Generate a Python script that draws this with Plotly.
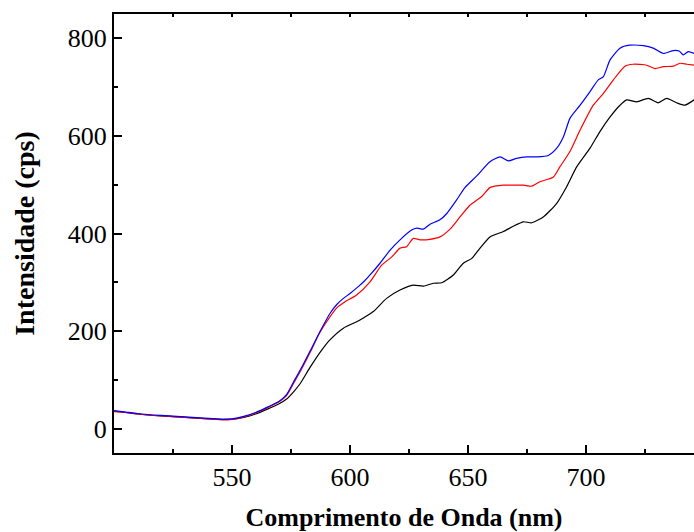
import plotly.graph_objects as go

# Wavelength (nm) / intensity (cps)
blue_x = [500, 505, 510, 520, 530, 540, 546, 550, 555, 560, 565, 570, 573, 576, 580, 583.3, 587.3, 591.5, 594.5, 597.2, 600, 603.5, 606, 608.5, 612.7, 617, 621.2, 626.1, 628.3, 631.1, 633.9, 638.1, 641, 645.2, 648.7, 653.7, 659.3, 663.6, 667.1, 670.6, 674.9, 679.1, 684, 687.6, 690.4, 693.2, 697.5, 701.7, 705.2, 707.3, 710.2, 714.4, 718.6, 724.3, 728.5, 732.8, 737, 739.5, 741.2, 743.3, 745.8]
blue_y = [37, 34, 31, 27, 24, 21, 19, 20, 25, 33, 44, 56, 69, 95, 130, 161, 199, 236, 255, 267, 277, 291, 302, 315, 339, 366, 387, 407, 411, 409, 419, 428, 441, 469, 494, 518, 547, 557, 549, 554, 557, 557, 560, 575, 598, 636, 663, 691, 715, 721, 756, 780, 786, 785, 780, 769, 775, 774, 766, 773, 769]

red_x = [500, 505, 510, 520, 530, 540, 546, 550, 555, 560, 565, 570, 573, 576, 580, 583.3, 587, 591.5, 594.5, 597.9, 602.8, 608.5, 613.4, 617.7, 621.2, 624, 626.8, 629.7, 633.9, 638.1, 642.4, 646.6, 650.8, 655.8, 659.3, 665, 670.6, 673.5, 677, 680.5, 686.2, 689, 693.2, 697.5, 703.1, 707.3, 711.6, 716.5, 720, 725.7, 729.2, 732.8, 737, 739.8, 742.7, 745.8]
red_y = [35, 33, 30, 26, 23, 20, 18, 19, 24, 32, 43, 55, 67, 92, 127, 158, 195, 229, 248, 260, 274, 301, 335, 352, 370, 373, 390, 387, 388, 393, 409, 434, 458, 476, 494, 499, 499, 499, 497, 506, 516, 537, 568, 612, 663, 687, 715, 743, 747, 745, 738, 742, 743, 749, 747, 745]

black_x = [500, 505, 510, 520, 530, 540, 546, 550, 555, 560, 565, 570, 573, 576, 579, 583, 588, 591.5, 597.2, 602.8, 606, 609.9, 615.5, 621.2, 626.8, 631.1, 635.3, 638.9, 643.8, 648, 651.6, 655.1, 659.3, 665, 669.2, 673.5, 677, 681.9, 687.6, 691.8, 696.1, 701.7, 705.9, 710.2, 714.4, 717.2, 721.5, 726.4, 730.6, 734.2, 738.4, 741.9, 745.8]
black_y = [36, 33, 30, 26, 23, 20, 19, 19, 23, 30, 40, 51, 60, 75, 93, 125, 161, 182, 206, 219, 228, 240, 267, 284, 294, 292, 298, 299, 315, 339, 349, 370, 393, 404, 415, 424, 422, 434, 462, 496, 537, 575, 609, 639, 663, 674, 670, 677, 668, 677, 668, 663, 674]

x_ticks = [550, 600, 650, 700]
y_ticks = [0, 200, 400, 600, 800]

FONT = "Liberation Serif"

fig = go.Figure()
for xs, ys, col in [(black_x, black_y, "#000000"), (red_x, red_y, "#ff0000"), (blue_x, blue_y, "#0000ff")]:
    fig.add_trace(go.Scatter(x=xs, y=ys, mode="lines", line=dict(color=col, width=1.2, shape="spline", smoothing=0.6), showlegend=False))

# invisible trace to enable top axis
fig.add_trace(go.Scatter(x=[500], y=[0], xaxis="x2", mode="markers", marker=dict(opacity=0), showlegend=False, hoverinfo="skip"))

fig.update_layout(
    width=694, height=532,
    margin=dict(l=114, r=0, t=14, b=79),
    paper_bgcolor="white", plot_bgcolor="white",
    font=dict(family=FONT, size=26, color="black"),
    xaxis=dict(
        range=[500, 745.76], tickvals=x_ticks, ticks="inside", ticklen=8, tickwidth=2, tickcolor="black",
        minor=dict(dtick=25, tick0=500, ticks="inside", ticklen=4, tickwidth=1.5, tickcolor="black"),
        showline=True, linewidth=2, linecolor="black", showgrid=False, zeroline=False, automargin=False,
        tickfont=dict(family=FONT, size=26),
        title=dict(text="<b>Comprimento de Onda (nm)</b>", font=dict(family=FONT, size=26), standoff=24),
    ),
    xaxis2=dict(
        overlaying="x", side="top", range=[500, 745.76], dtick=25, tick0=500, ticks="inside", ticklen=3,
        tickwidth=1.5, tickcolor="black", showticklabels=False, showline=True, linewidth=2, linecolor="black",
        showgrid=False, zeroline=False, automargin=False,
    ),
    yaxis=dict(
        range=[-50, 850], tickvals=y_ticks, ticks="inside", ticklen=8, tickwidth=2, tickcolor="black",
        minor=dict(dtick=100, tick0=0, ticks="inside", ticklen=4, tickwidth=1.5, tickcolor="black"),
        showline=True, linewidth=2, linecolor="black", showgrid=False, zeroline=False, automargin=False,
        tickfont=dict(family=FONT, size=26),
        title=dict(text="<b>Intensidade (cps)</b>", font=dict(family=FONT, size=28), standoff=25),
    ),
)

fig.write_html("out.html")
